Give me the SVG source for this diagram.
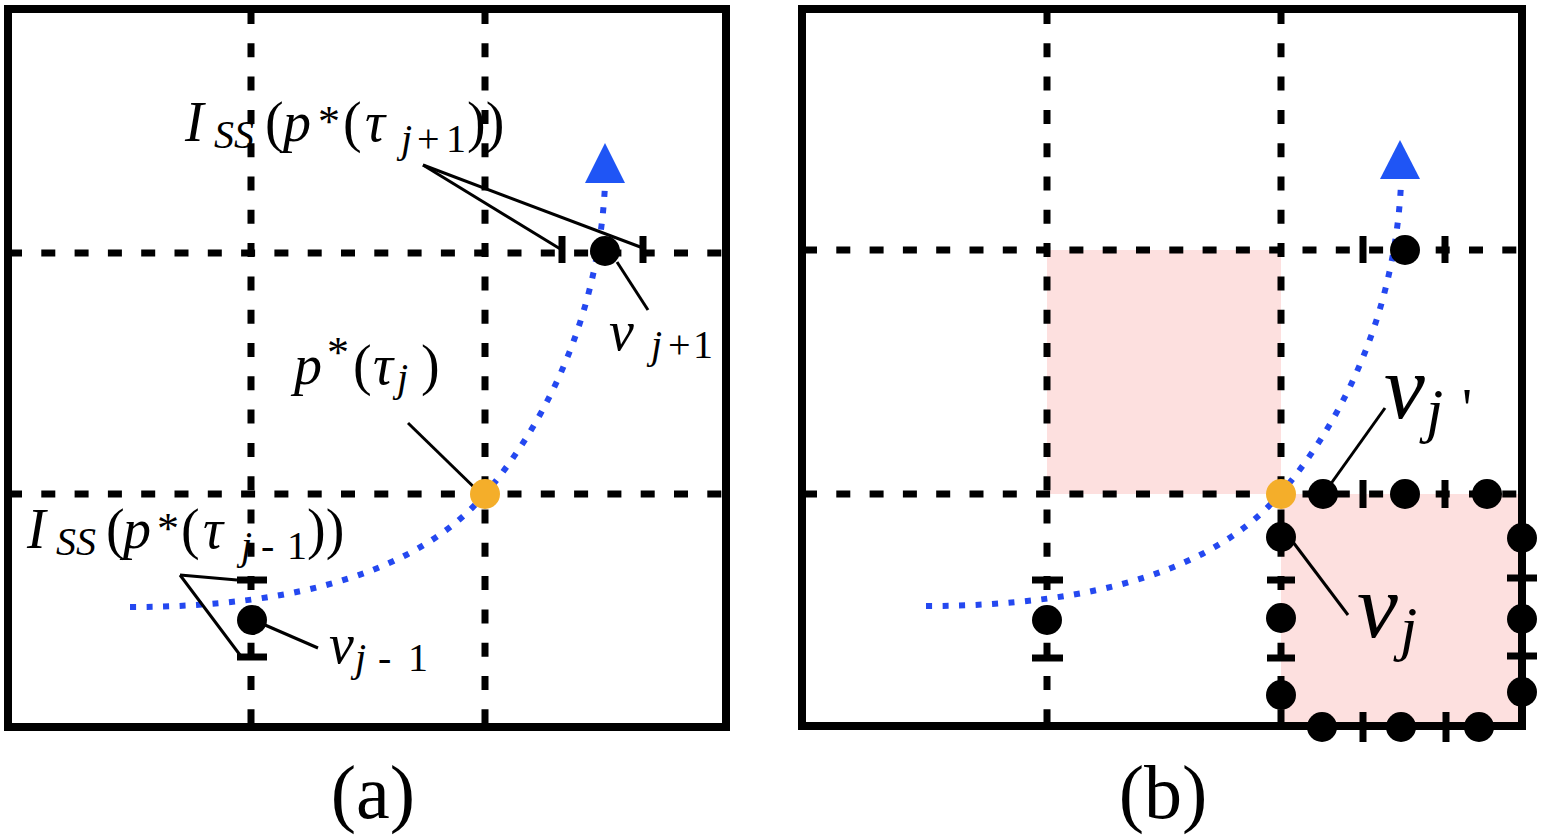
<svg xmlns="http://www.w3.org/2000/svg" width="1546" height="840" viewBox="0 0 1546 840">
<rect x="0" y="0" width="1546" height="840" fill="#fff"/>

<g id="panel-a">
  <g stroke="#000" stroke-width="7" stroke-dasharray="14 19.3" fill="none">
    <line x1="251" y1="10" x2="251" y2="724"/>
    <line x1="485" y1="10" x2="485" y2="724"/>
    <line x1="8" y1="253" x2="724" y2="253"/>
    <line x1="8" y1="494" x2="724" y2="494"/>
  </g>
  <rect x="8" y="9" width="718" height="718" fill="none" stroke="#000" stroke-width="8"/>
</g>

<g id="panel-b">
  <g fill="#fde0df">
    <rect x="1047" y="250" width="234" height="244"/>
    <rect x="1281" y="494" width="241" height="232"/>
  </g>
  <g stroke="#000" stroke-width="7" stroke-dasharray="14 19.3" fill="none">
    <line x1="1047" y1="10" x2="1047" y2="724"/>
    <line x1="1281" y1="10" x2="1281" y2="724"/>
    <line x1="803" y1="250" x2="1520" y2="250"/>
    <line x1="803" y1="494" x2="1520" y2="494"/>
  </g>
  <rect x="802" y="9" width="720" height="717" fill="none" stroke="#000" stroke-width="8"/>
</g>

<g id="connectors">
  <g stroke="#2448f0" stroke-width="6" stroke-dasharray="6 10.5" fill="none">
    <path d="M130,607 C300,607 420,570 485,494 C535,436 598,330 605,185"/>
    <path transform="translate(796,-1)" d="M130,607 C300,607 420,570 485,494 C535,436 598,330 605,185"/>
  </g>
  <g fill="#1f55f5">
    <polygon points="605,143 585,183 625,183"/>
    <polygon points="1400,140 1380,179 1420,179"/>
  </g>
  <g stroke="#000" stroke-width="3" fill="none">
    <line x1="423" y1="165" x2="562" y2="250"/>
    <line x1="423" y1="165" x2="643" y2="248"/>
    <line x1="617" y1="262" x2="648" y2="310"/>
    <line x1="408" y1="423" x2="482" y2="495"/>
    <line x1="180" y1="575" x2="237" y2="580"/>
    <line x1="180" y1="575" x2="240" y2="655"/>
    <line x1="265" y1="625" x2="318" y2="648"/>
    <line x1="1330" y1="485" x2="1385" y2="408"/>
    <line x1="1293" y1="542" x2="1348" y2="615"/>
  </g>
</g>

<g id="ticks" stroke="#000" stroke-width="7" fill="none">
  <line x1="562" y1="236" x2="562" y2="263"/>
  <line x1="643" y1="236" x2="643" y2="263"/>
  <line x1="237" y1="580" x2="267" y2="580"/>
  <line x1="237" y1="657" x2="267" y2="657"/>
  <line x1="1363" y1="236" x2="1363" y2="263"/>
  <line x1="1445" y1="236" x2="1445" y2="263"/>
  <line x1="1032" y1="580" x2="1063" y2="580"/>
  <line x1="1032" y1="658" x2="1063" y2="658"/>
  <line x1="1363" y1="480" x2="1363" y2="508"/>
  <line x1="1445" y1="480" x2="1445" y2="508"/>
  <line x1="1267" y1="580" x2="1295" y2="580"/>
  <line x1="1267" y1="658" x2="1295" y2="658"/>
  <line x1="1507" y1="578" x2="1537" y2="578"/>
  <line x1="1507" y1="656" x2="1537" y2="656"/>
  <line x1="1363" y1="712" x2="1363" y2="742"/>
  <line x1="1446" y1="712" x2="1446" y2="742"/>
</g>

<g id="node-vj1-a"><circle fill="#000" cx="605" cy="251" r="15"/></g>
<g id="node-vjm1-a"><circle fill="#000" cx="252" cy="620" r="15"/></g>
<g id="node-p-a"><circle fill="#f4ae2a" cx="485" cy="494" r="15"/></g>
<g id="node-vj1-b"><circle fill="#000" cx="1405" cy="250" r="15"/></g>
<g id="node-vjm1-b"><circle fill="#000" cx="1047" cy="620" r="15"/></g>
<g id="node-p-b"><circle fill="#f4ae2a" cx="1281" cy="494" r="15"/></g>
<g id="nodes-border-b" fill="#000">
  <circle cx="1323" cy="494" r="15"/>
  <circle cx="1405" cy="494" r="15"/>
  <circle cx="1487" cy="494" r="15"/>
  <circle cx="1281" cy="537" r="15"/>
  <circle cx="1281" cy="618" r="15"/>
  <circle cx="1281" cy="695" r="15"/>
  <circle cx="1522" cy="538" r="15"/>
  <circle cx="1522" cy="619" r="15"/>
  <circle cx="1522" cy="692" r="15"/>
  <circle cx="1322" cy="727" r="15"/>
  <circle cx="1401" cy="727" r="15"/>
  <circle cx="1479" cy="727" r="15"/>
</g>

<text x="185" y="141" font-size="56" font-family="Liberation Serif"><tspan font-style="italic">I</tspan><tspan font-style="italic" font-size="40" x="214" y="148">SS</tspan><tspan x="265" y="141">(</tspan><tspan font-style="italic" x="283" y="141">p</tspan><tspan font-size="44" x="318" y="136">*</tspan><tspan x="343" y="141">(</tspan><tspan font-style="italic" x="365" y="141">τ</tspan><tspan font-style="italic" font-size="40" x="401" y="152">j</tspan><tspan font-size="40" x="417" y="152">+</tspan><tspan font-size="40" x="446" y="152">1</tspan><tspan x="467" y="141">))</tspan></text>
<text x="27" y="548" font-size="56" font-family="Liberation Serif"><tspan font-style="italic">I</tspan><tspan font-style="italic" font-size="40" x="56" y="555">SS</tspan><tspan x="106" y="548">(</tspan><tspan font-style="italic" x="123" y="548">p</tspan><tspan font-size="44" x="157" y="543">*</tspan><tspan x="181" y="548">(</tspan><tspan font-style="italic" x="203" y="548">τ</tspan><tspan font-style="italic" font-size="40" x="241" y="559">j</tspan><tspan font-size="40" x="261" y="559">-</tspan><tspan font-size="40" x="287" y="559">1</tspan><tspan x="307" y="548">))</tspan></text>
<text x="294" y="384" font-size="56" font-family="Liberation Serif"><tspan font-style="italic">p</tspan><tspan font-size="44" x="327" y="367">*</tspan><tspan x="353" y="384">(</tspan><tspan font-style="italic" x="373" y="384">τ</tspan><tspan font-style="italic" font-size="40" x="397" y="391">j</tspan><tspan x="421" y="384">)</tspan></text>
<text x="609" y="350" font-size="56" font-family="Liberation Serif"><tspan font-style="italic">v</tspan><tspan font-style="italic" font-size="40" x="651" y="358">j</tspan><tspan font-size="40" x="668" y="358">+</tspan><tspan font-size="40" x="693" y="358">1</tspan></text>
<text x="329" y="663" font-size="56" font-family="Liberation Serif"><tspan font-style="italic">v</tspan><tspan font-style="italic" font-size="40" x="355" y="671">j</tspan><tspan font-size="40" x="378" y="671">-</tspan><tspan font-size="40" x="408" y="671">1</tspan></text>
<text x="373" y="818" font-size="76" text-anchor="middle" font-family="Liberation Serif">(a)</text>
<text x="1384" y="418" font-size="92" font-family="Liberation Serif"><tspan font-style="italic">v</tspan><tspan font-style="italic" font-size="62" x="1426" y="431">j</tspan><tspan font-size="56" x="1462" y="428">'</tspan></text>
<text x="1357" y="637" font-size="92" font-family="Liberation Serif"><tspan font-style="italic">v</tspan><tspan font-style="italic" font-size="62" x="1400" y="649">j</tspan></text>
<text x="1163" y="818" font-size="76" text-anchor="middle" font-family="Liberation Serif">(b)</text>
</svg>
